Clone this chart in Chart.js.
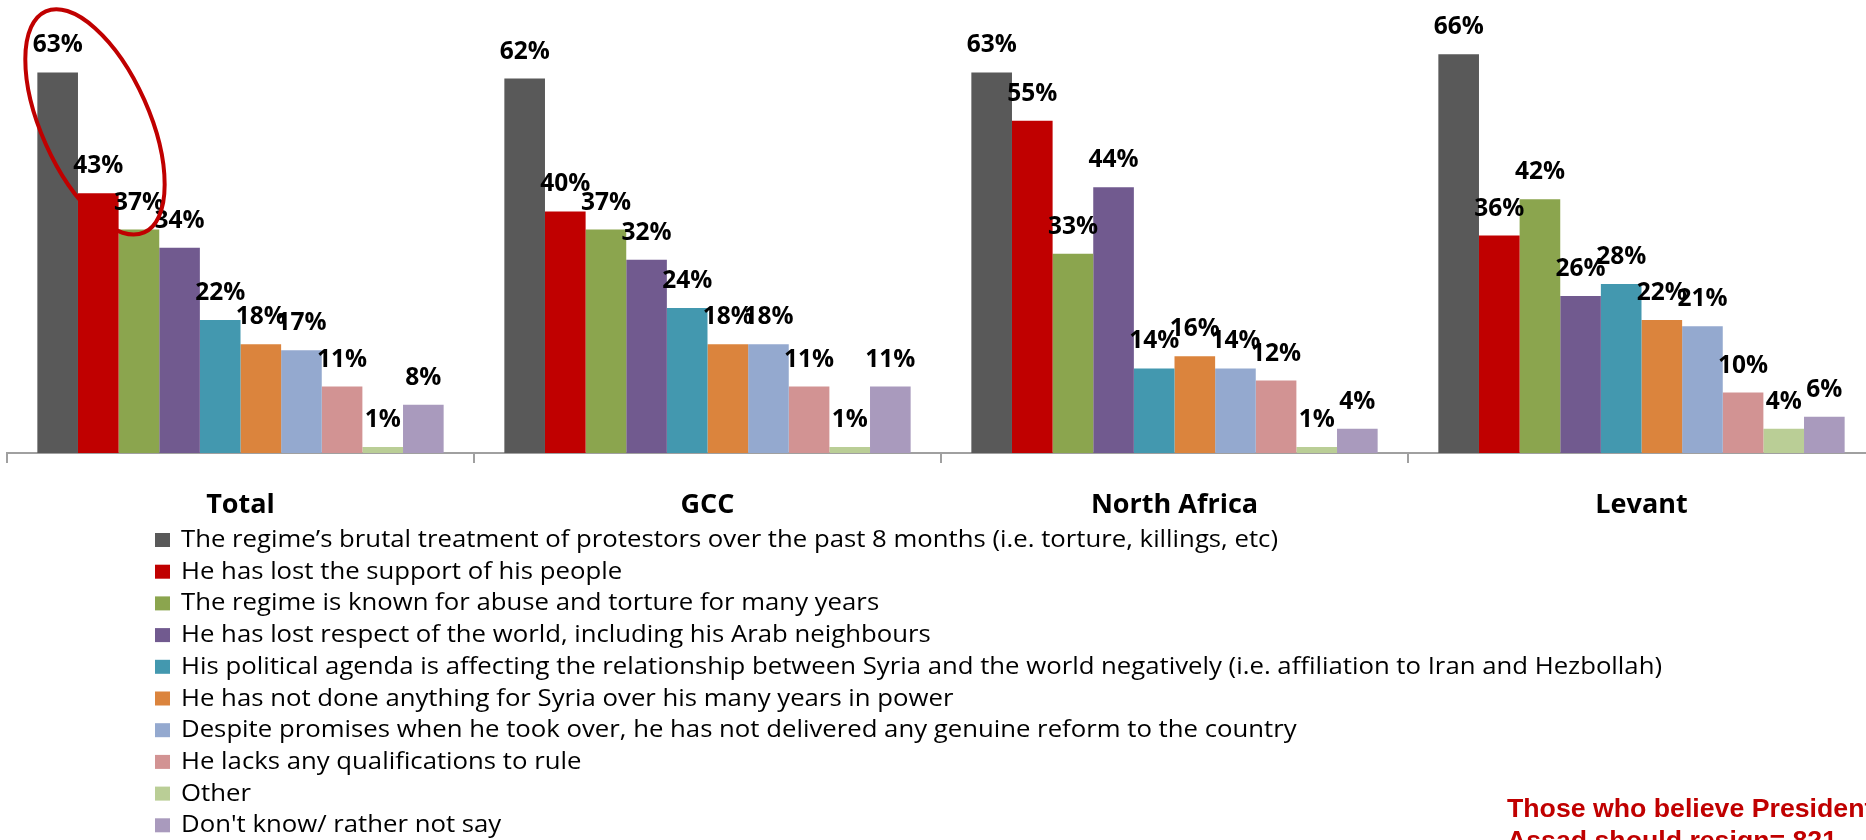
<!DOCTYPE html>
<html lang="en">
<head>
<meta charset="UTF-8">
<title>Reasons Assad should resign</title>
<script src="https://cdn.jsdelivr.net/npm/chart.js"></script>
<style>
  html, body { margin: 0; padding: 0; background: #fff; overflow: hidden; }
  #wrap { width: 1866px; height: 840px; overflow: hidden; }
  canvas { display: block; }
</style>
</head>
<body>
<div id="wrap"><canvas id="myChart" width="1880" height="840"></canvas></div>
<script>
// categories (regions) and the answer options
const regions = ['Total', 'GCC', 'North Africa', 'Levant'];
const reasons = [
  'The regime\u2019s brutal treatment of protestors over the past 8 months (i.e. torture, killings, etc)',
  'He has lost the support of his people',
  'The regime is known for abuse and torture for many years',
  'He has lost respect of the world, including his Arab neighbours',
  'His political agenda is affecting the relationship between Syria and the world negatively (i.e. affiliation to Iran and Hezbollah)',
  'He has not done anything for Syria over his many years in power',
  'Despite promises when he took over, he has not delivered any genuine reform to the country',
  'He lacks any qualifications to rule',
  'Other',
  "Don't know/ rather not say"
];

// % per reason, one array per region (same order as reasons)
const totalValues       = [63, 43, 37, 34, 22, 18, 17, 11, 1, 8];
const gccValues         = [62, 40, 37, 32, 24, 18, 18, 11, 1, 11];
const northAfricaValues = [63, 55, 33, 44, 14, 16, 14, 12, 1, 4];
const levantValues      = [66, 36, 42, 26, 28, 22, 21, 10, 4, 6];

const baseNote = ['Those who believe President', 'Assad should resign= 821'];

const colors = ['#595959', '#C00000', '#8BA54E', '#715A8F', '#4398AF',
                '#DB843D', '#94A9CF', '#D29393', '#BACE96', '#A99ABD'];

const byRegion = [totalValues, gccValues, northAfricaValues, levantValues];

const datasets = reasons.map((label, i) => ({
  label: label,
  data: byRegion.map(arr => arr[i]),
  backgroundColor: colors[i],
  borderWidth: 0,
  categoryPercentage: 0.87,
  barPercentage: 1.0
}));

// value labels above every bar
const valueLabels = {
  id: 'valueLabels',
  afterDatasetsDraw(chart) {
    const ctx = chart.ctx;
    ctx.save();
    ctx.font = 'bold 24.5px "Open Sans"';
    ctx.fillStyle = '#000';
    ctx.textAlign = 'center';
    ctx.textBaseline = 'alphabetic';
    chart.data.datasets.forEach((ds, i) => {
      chart.getDatasetMeta(i).data.forEach((bar, j) => {
        ctx.fillText(ds.data[j] + '%', bar.x, bar.y - 20);
      });
    });
    ctx.restore();
  }
};

// one-per-line legend below the axis labels
const listLegend = {
  id: 'listLegend',
  afterDraw(chart) {
    const ctx = chart.ctx;
    ctx.save();
    ctx.font = '23.5px "Open Sans"';
    ctx.textBaseline = 'alphabetic';
    const first = ctx.measureText(chart.data.datasets[0].label).width;
    const sx = 1097 / first;
    chart.data.datasets.forEach((ds, i) => {
      const y = 547 + i * 31.7;
      ctx.fillStyle = ds.backgroundColor;
      ctx.fillRect(155, y - 14, 15, 14);
      ctx.fillStyle = '#000';
      ctx.save();
      ctx.translate(181, y);
      ctx.scale(sx, 1);
      ctx.fillText(ds.label, 0, 0);
      ctx.restore();
    });
    ctx.restore();
  }
};

// red ellipse round the first two Total bars, and the base note
const annotations = {
  id: 'annotations',
  afterDraw(chart) {
    const ctx = chart.ctx;
    const b0 = chart.getDatasetMeta(0).data[0];
    const b1 = chart.getDatasetMeta(1).data[0];
    ctx.save();
    ctx.strokeStyle = '#C00000';
    ctx.lineWidth = 4;
    ctx.beginPath();
    ctx.ellipse((b0.x + b1.x) / 2 + 17, (b0.y + b1.y) / 2 - 11, 121, 54, 66 * Math.PI / 180, 0, Math.PI * 2);
    ctx.stroke();

    ctx.fillStyle = '#C00000';
    ctx.font = 'bold 26.7px "Liberation Sans", Arial, sans-serif';
    ctx.textAlign = 'left';
    ctx.fillText(baseNote[0], 1507, 817);
    ctx.fillText(baseNote[1], 1507, 849);
    ctx.restore();
  }
};

const ctx = document.getElementById('myChart').getContext('2d');

const myChart = new Chart(ctx, {
  type: 'bar',
  data: { labels: regions, datasets: datasets },
  options: {
    responsive: false,
    animation: false,
    layout: { padding: { left: 7, right: 5, top: 0, bottom: 317 } },
    plugins: {
      legend: { display: false },
      tooltip: { enabled: false }
    },
    scales: {
      x: {
        grid: { offset: true, drawOnChartArea: false, drawTicks: true, tickLength: 10, color: '#a0a0a0', lineWidth: 2 },
        border: { display: true, color: '#a0a0a0', width: 2 },
        ticks: {
          color: '#000',
          padding: 26,
          maxRotation: 0,
          autoSkip: false,
          font: { family: 'Open Sans', size: 27, weight: 'bold' }
        },
        afterFit(scale) { scale.height = 70; }
      },
      y: { display: false, min: 0, max: 75 }
    }
  },
  plugins: [valueLabels, listLegend, annotations]
});
</script>
</body>
</html>
